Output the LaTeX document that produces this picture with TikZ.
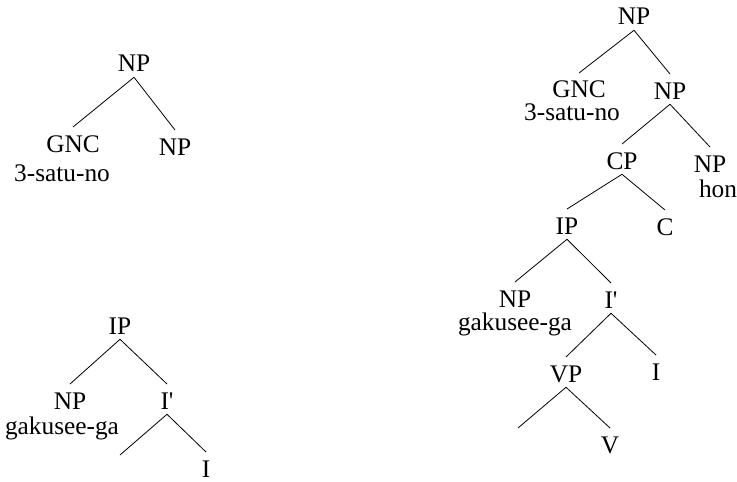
\documentclass[tikz,border=0pt]{standalone}
\usepackage{fontspec}
\setmainfont{Liberation Serif}
\begin{document}
\begin{tikzpicture}[x=0.75pt,y=-0.75pt,
  cat/.style={font=\fontsize{19}{22}\selectfont, inner xsep=0pt, inner ysep=3.75pt,
    text height=14.8pt, text depth=0pt, anchor=base},
  word/.style={font=\fontsize{19}{22}\selectfont, inner sep=0pt, anchor=base},
  branch/.style={draw=black, line width=0.6pt}]
\useasboundingbox (0,0) rectangle (737,481);
% left tree 1
\node[cat] (a1) at (134,72) {NP};
\node[cat] (a2) at (73,152) {GNC};
\node[word] (a2w) at (62,181) {3-satu-no};
\node[cat] (a3) at (175,155) {NP};
\draw[branch] (a1.south) -- (a2.north);
\draw[branch] (a1.south) -- (a3.north);
% left tree 2
\node[cat] (b1) at (120,334) {IP};
\node[cat] (b2) at (70,409) {NP};
\node[word] (b2w) at (62,434) {gakusee-ga};
\node[cat] (b3) at (167,409) {I\textquotesingle};
\coordinate (b4) at (120,455);
\node[cat] (b5) at (206,477) {I};
\draw[branch] (b1.south) -- (b2.north);
\draw[branch] (b1.south) -- (b3.north);
\draw[branch] (b3.south) -- (b4);
\draw[branch] (b3.south) -- (b5.north);
% right tree
\node[cat] (c1) at (634,25) {NP};
\node[cat] (c2) at (579,98) {GNC};
\node[word] (c2w) at (572,121) {3-satu-no};
\node[cat] (c3) at (670,99) {NP};
\node[cat] (c4) at (622,169) {CP};
\node[cat] (c5) at (710,172) {NP};
\node[word] (c5w) at (718,197) {hon};
\node[cat] (c6) at (567,234) {IP};
\node[cat] (c7) at (665,235) {C};
\node[cat] (c8) at (515,307) {NP};
\node[word] (c8w) at (515,330) {gakusee-ga};
\node[cat] (c9) at (611,308) {I\textquotesingle};
\node[cat] (c10) at (566,382) {VP};
\node[cat] (c11) at (656,380) {I};
\coordinate (c12) at (518,428);
\node[cat] (c13) at (610,453) {V};
\draw[branch] (c1.south) -- (c2.north);
\draw[branch] (c1.south) -- (c3.north);
\draw[branch] (c3.south) -- (c4.north);
\draw[branch] (c3.south) -- (c5.north);
\draw[branch] (c4.south) -- (c6.north);
\draw[branch] (c4.south) -- (c7.north);
\draw[branch] (c6.south) -- (c8.north);
\draw[branch] (c6.south) -- (c9.north);
\draw[branch] (c9.south) -- (c10.north);
\draw[branch] (c9.south) -- (c11.north);
\draw[branch] (c10.south) -- (c12);
\draw[branch] (c10.south) -- (c13.north);
\end{tikzpicture}
\end{document}
